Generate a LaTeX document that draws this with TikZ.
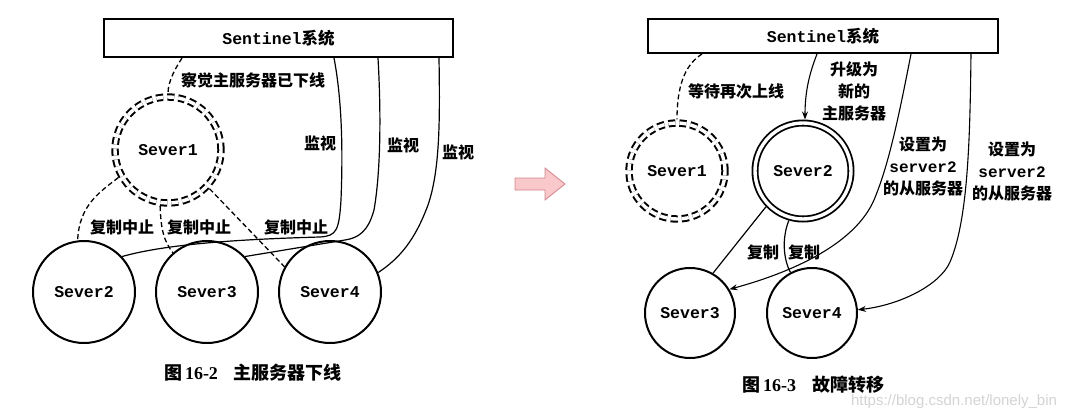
\documentclass[tikz,border=0pt]{standalone}
\usepackage{fontspec}
\setmainfont{Liberation Serif}
\newfontfamily\mono{Liberation Mono}
\newfontfamily\cjk{Noto Sans CJK SC}
\newfontfamily\wmfont{Liberation Sans}
\usetikzlibrary{arrows.meta,calc}
\definecolor{pinkfill}{HTML}{F9C8CA}
\definecolor{pinkline}{HTML}{D4848C}
\definecolor{wmgray}{HTML}{D3D3D3}
\tikzset{
 srv/.style={circle, draw, line width=2pt, inner sep=0pt, font=\mono\bfseries\fontsize{16.5}{20}\selectfont},
 downsrv/.style={srv, double, double distance=3.4pt, line width=2pt, dash pattern=on 7pt off 4pt},
 mastersrv/.style={srv, double, double distance=3.4pt, line width=1.8pt},
 sentbox/.style={draw, line width=2pt, inner sep=0pt, font=\mono\bfseries\fontsize{16.5}{20}\selectfont},
 lbl/.style={font=\cjk\bfseries\fontsize{16}{22}\selectfont, inner sep=1pt, align=center},
 mon/.style={line width=1.2pt},
 dline/.style={line width=1.3pt, dash pattern=on 5pt off 3pt},
 arr/.style={line width=1.1pt, -{Stealth[length=8pt,width=6pt]}},
 captxt/.style={font=\fontsize{18}{22}\selectfont, inner sep=0pt},
}
\begin{document}
\begin{tikzpicture}[x=1pt,y=-1pt]
\useasboundingbox (0,0) rectangle (1072,420);

% ---------------- left diagram ----------------
\node[sentbox, minimum width=349pt, minimum height=38pt] (bL) at (278.5,38) {Sentinel{\cjk\bfseries 系统}};
\node[downsrv, minimum size=106pt, outer sep=3.7pt] (S1) at (168,150) {Sever1};
\node[srv, minimum size=102pt] (S2) at (84,292) {Sever2};
\node[srv, minimum size=102pt] (S3) at (207,292) {Sever3};
\node[srv, minimum size=102pt] (S4) at (330,292) {Sever4};

\draw[dline] ([xshift=79pt]bL.south west) .. controls (177,66) and (168,80) .. (S1.north);
\draw[mon] ([xshift=231pt]bL.south west) .. controls (342,100) and (343,150) .. (341,200)
  .. controls (339,230) and (337,236) .. (320,237)
  .. controls (250,239) and (170,243) .. (S2.43);
\draw[mon] ([xshift=275pt]bL.south west) .. controls (381,110) and (381,170) .. (374,210)
  .. controls (368,232) and (358,238) .. (345,240) -- (S3.43);
\draw[mon] ([xshift=336pt]bL.south west) .. controls (440,120) and (440,170) .. (428,205)
  .. controls (415,240) and (400,258) .. (S4.22);

\draw[dline] (S1.209) .. controls (100,192) and (79,205) .. (S2.97);
\draw[dline] (S1.262) .. controls (161,228) and (163,240) .. (S3.131);
\draw[dline] (S1.317) -- (S4.151);

\node[lbl] (l1) at (253,80) {察觉主服务器已下线};
\node[lbl] (m1) at (320,143) {监视};
\node[lbl] (m2) at (403,145) {监视};
\node[lbl] (m3) at (458,152) {监视};
\node[lbl] (c1) at (122,227) {复制中止};
\node[lbl] (c2) at (199,227) {复制中止};
\node[lbl] (c3) at (296,227) {复制中止};
\node[captxt] (capL) at (253,373) {{\cjk\bfseries 图}\,{\bfseries 16-2}\hspace{16pt}{\cjk\bfseries 主服务器下线}};

% ---------------- arrow ----------------
\draw[pinkline, fill=pinkfill, line width=0.8pt]
  (515,178) -- (545,178) -- (545,168) -- (565,184) -- (545,200) -- (545,190) -- (515,190) -- cycle;

% ---------------- right diagram ----------------
\node[sentbox, minimum width=350pt, minimum height=34pt] (bR) at (823,36) {Sentinel{\cjk\bfseries 系统}};
\node[downsrv, minimum size=96pt, outer sep=3.7pt] (R1) at (677,171) {Sever1};
\node[mastersrv, minimum size=96pt, outer sep=3.5pt] (R2) at (803,171) {Sever2};
\node[srv, minimum size=90pt] (R3) at (690,313) {Sever3};
\node[srv, minimum size=90pt] (R4) at (812,313) {Sever4};

\draw[dline] ([xshift=55pt]bR.south west) .. controls (688,63) and (677,80) .. (R1.north);
\draw[arr] ([xshift=170pt]bR.south west) .. controls (810,72) and (805,90) .. ([xshift=2pt]R2.north);
\draw[arr] ([xshift=264pt]bR.south west) .. controls (900,110) and (890,160) .. (876,195)
  .. controls (860,240) and (800,270) .. (R3.31);
\draw[arr] ([xshift=324pt]bR.south west) .. controls (970,140) and (968,220) .. (950,262)
  .. controls (940,285) and (900,305) .. (R4.4);
\draw[mon] (R2.224) -- (R3.60);
\draw[mon] (R2.254) .. controls (782,238) and (783,258) .. (R4.118);

\node[lbl] (w1) at (736,91) {等待再次上线};
\node[lbl] (u1) at (854,91) {升级为\\新的\\主服务器};
\node[lbl] (s1) at (923,166) {设置为\\{\mono server2}\\的从服务器};
\node[lbl] (s2) at (1012,171) {设置为\\{\mono server2}\\的从服务器};
\node[lbl] (f1) at (763,252) {复制};
\node[lbl] (f2) at (804,252) {复制};
\node[captxt] (capR) at (813,385) {{\cjk\bfseries 图}\,{\bfseries 16-3}\hspace{16pt}{\cjk\bfseries 故障转移}};
\node[font=\wmfont\fontsize{15}{18}\selectfont, text=wmgray, inner sep=0pt] (wm) at (954,402) {https://blog.csdn.net/lonely\_bin};
\end{tikzpicture}
\end{document}
